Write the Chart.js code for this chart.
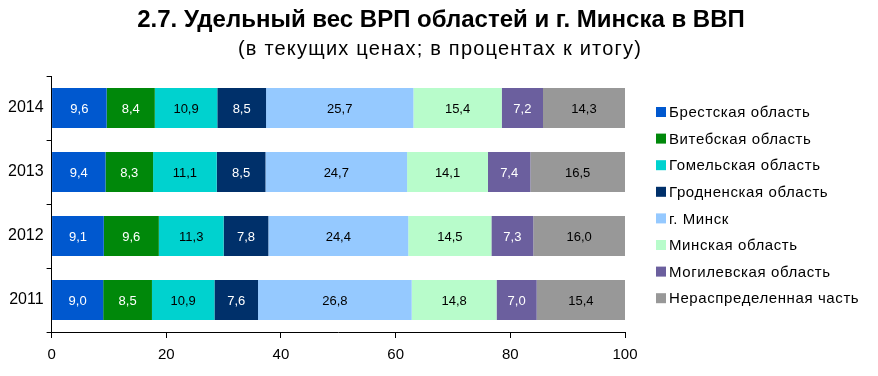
<!DOCTYPE html>
<html>
<head>
<meta charset="utf-8">
<script src="https://cdn.jsdelivr.net/npm/chart.js@4"></script>
<style>
  html, body { margin: 0; padding: 0; background: #fff; }
  #wrap { width: 878px; height: 376px; }
</style>
</head>
<body>
<div id="wrap"><canvas id="chart" width="878" height="376"></canvas></div>
<script>
// years, top to bottom
const years = ['2014', '2013', '2012', '2011'];

// shares by region (%), same order as years
const brest     = [9.6, 9.4, 9.1, 9.0];
const vitebsk   = [8.4, 8.3, 9.6, 8.5];
const gomel     = [10.9, 11.1, 11.3, 10.9];
const grodno    = [8.5, 8.5, 7.8, 7.6];
const minskCity = [25.7, 24.7, 24.4, 26.8];
const minskReg  = [15.4, 14.1, 14.5, 14.8];
const mogilev   = [7.2, 7.4, 7.3, 7.0];
const other     = [14.3, 16.5, 16.0, 15.4];

const xTicks = [0, 20, 40, 60, 80, 100];

const TITLE = '2.7. Удельный вес ВРП областей и г. Минска в ВВП';
const SUBTITLE = '(в текущих ценах; в процентах к итогу)';

const FONT = "'Liberation Sans', Arial, sans-serif";

function ds(label, data, color, textColor) {
    return { label: label, data: data, backgroundColor: color, borderWidth: 0,
             barPercentage: 0.625, categoryPercentage: 1, textColor: textColor };
}

// values inside each segment, comma as decimal sign
const barLabels = {
    id: 'barLabels',
    afterDatasetsDraw(chart) {
        const ctx = chart.ctx;
        ctx.save();
        ctx.font = '13px ' + FONT;
        ctx.textAlign = 'center';
        ctx.textBaseline = 'middle';
        chart.data.datasets.forEach((d, i) => {
            const meta = chart.getDatasetMeta(i);
            meta.data.forEach((bar, j) => {
                const p = bar.getProps(['x', 'y', 'base'], true);
                ctx.fillStyle = d.textColor;
                ctx.fillText(d.data[j].toFixed(1).replace('.', ','), (p.x + p.base) / 2, p.y + 1);
            });
        });
        ctx.restore();
    }
};

// title, subtitle and legend drawn by hand so they sit where the original has them
const frame = {
    id: 'frame',
    afterDraw(chart) {
        const ctx = chart.ctx;
        ctx.save();
        ctx.fillStyle = '#000';
        ctx.textBaseline = 'middle';
        ctx.textAlign = 'center';
        ctx.font = 'bold 24px ' + FONT;
        ctx.fillText(TITLE, 441, 20);
        ctx.font = '20px ' + FONT;
        ctx.letterSpacing = '1.2px';
        ctx.fillText(SUBTITLE, 440, 49);

        ctx.textAlign = 'left';
        ctx.font = '15px ' + FONT;
        ctx.letterSpacing = '0.6px';
        chart.data.datasets.forEach((d, i) => {
            const y = 112 + i * 26.6;
            ctx.fillStyle = d.backgroundColor;
            ctx.fillRect(656, y - 5, 10, 10);
            ctx.fillStyle = '#000';
            ctx.fillText(d.label, 669, y + 1);
        });
        ctx.restore();
    }
};

new Chart(document.getElementById('chart'), {
    type: 'bar',
    data: {
        labels: years,
        datasets: [
            ds('Брестская область', brest, '#0058CF', '#ffffff'),
            ds('Витебская область', vitebsk, '#00880A', '#ffffff'),
            ds('Гомельская область', gomel, '#00D2CF', '#000000'),
            ds('Гродненская область', grodno, '#00306A', '#ffffff'),
            ds('г. Минск', minskCity, '#95C9FF', '#000000'),
            ds('Минская область', minskReg, '#B8FCCB', '#000000'),
            ds('Могилевская область', mogilev, '#6B5F9E', '#ffffff'),
            ds('Нераспределенная часть', other, '#989898', '#000000')
        ]
    },
    options: {
        indexAxis: 'y',
        responsive: false,
        animation: false,
        layout: { padding: { left: 5, right: 253, top: 76, bottom: 4 } },
        scales: {
            x: {
                stacked: true, min: 0, max: 100,
                afterBuildTicks: (axis) => { axis.ticks = xTicks.map(v => ({ value: v })); },
                grid: { drawOnChartArea: false, drawTicks: true, tickLength: 6, color: '#000', tickColor: '#000' },
                border: { color: '#000', width: 1 },
                ticks: { color: '#000', font: { family: FONT, size: 15 }, padding: 8, maxRotation: 0 }
            },
            y: {
                stacked: true,
                grid: { drawOnChartArea: false, drawTicks: true, tickLength: 5, color: '#000', tickColor: '#000', offset: true },
                border: { color: '#000', width: 1 },
                ticks: { color: '#000', font: { family: FONT, size: 16 }, padding: 3 }
            }
        },
        plugins: {
            title: { display: false },
            legend: { display: false },
            tooltip: { enabled: false }
        }
    },
    plugins: [barLabels, frame]
});
</script>
</body>
</html>
